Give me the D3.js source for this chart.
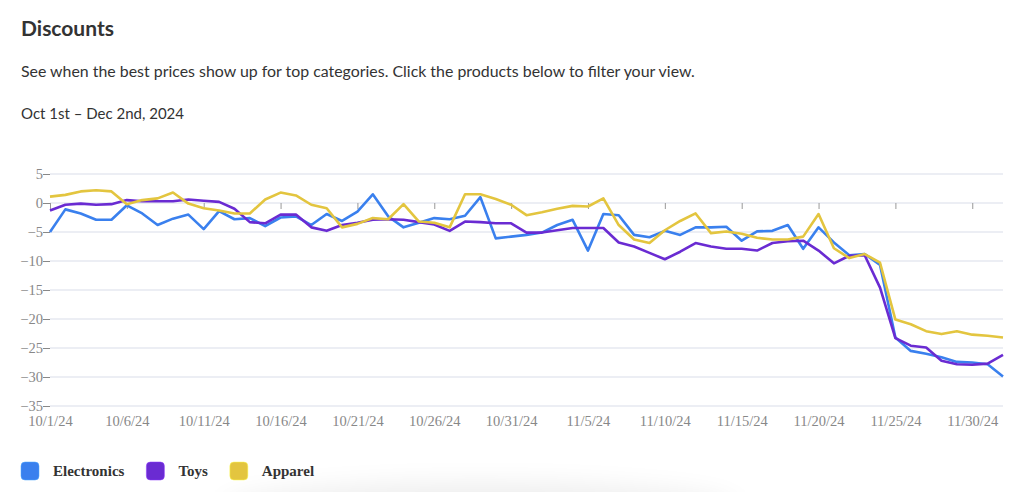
<!DOCTYPE html>
<html>
	<head>
		<title>Discounts</title>
		<style>
			body, html {
				margin: 0;
				padding: 0;
				background: #fff;
			}
		</style>
	</head>
	<body>

		<svg id="svg" width="1024" height="492"></svg>

		<script src="https://d3js.org/d3.v7.min.js"></script>
		<script>
			// Daily discount (%) per category, 10/1/24 through 12/2/24
			const startDate = new Date(2024, 9, 1)
			const endDate = new Date(2024, 11, 2)

			const categories = ['Electronics', 'Toys', 'Apparel']
			const colors = ['#3a80ee', '#6a2bd2', '#e3c53f']

			const electronics = [
				-5.0, -1.1, -1.8, -2.9, -2.9, -0.4, -1.8, -3.8, -2.7, -2.0,
				-4.5, -1.4, -2.8, -2.6, -4.0, -2.5, -2.3, -3.8, -1.9, -3.1,
				-1.5, 1.5, -2.3, -4.2, -3.4, -2.6, -2.8, -2.2, 1.0, -6.1,
				-5.8, -5.5, -5.1, -3.8, -2.9, -8.2, -1.9, -2.1, -5.5, -5.9,
				-4.8, -5.5, -4.2, -4.2, -4.1, -6.5, -4.9, -4.8, -3.8, -7.9,
				-4.2, -6.8, -9.0, -8.8, -10.7, -23.2, -25.5, -26.0, -26.6, -27.4,
				-27.5, -27.8, -29.9
			]
			const toys = [
				-1.3, -0.3, -0.1, -0.3, -0.2, 0.5, 0.3, 0.3, 0.3, 0.6,
				0.4, 0.2, -1.0, -3.3, -3.5, -2.0, -2.0, -4.2, -4.8, -3.8,
				-3.4, -2.9, -2.8, -2.9, -3.3, -3.7, -4.8, -3.2, -3.3, -3.5,
				-3.5, -5.1, -5.1, -4.7, -4.3, -4.3, -4.3, -6.8, -7.5, -8.6,
				-9.7, -8.4, -6.9, -7.5, -7.9, -7.9, -8.2, -6.9, -6.6, -6.5,
				-8.2, -10.4, -9.1, -9.0, -14.6, -23.3, -24.6, -24.9, -27.2, -27.8,
				-27.9, -27.7, -26.2
			]
			const apparel = [
				1.1, 1.4, 2.0, 2.2, 2.0, -0.2, 0.5, 0.8, 1.8, -0.1,
				-0.9, -1.3, -1.8, -1.8, 0.6, 1.8, 1.3, -0.3, -0.9, -4.2,
				-3.6, -2.6, -2.8, -0.2, -3.2, -3.4, -4.2, 1.5, 1.5, 0.7,
				-0.3, -2.1, -1.6, -1.0, -0.5, -0.6, 0.8, -3.8, -6.3, -6.9,
				-4.7, -3.1, -1.8, -5.2, -4.9, -5.3, -6.0, -6.3, -6.3, -5.8,
				-1.9, -7.8, -9.5, -8.8, -10.3, -20.1, -20.9, -22.1, -22.6, -22.1,
				-22.7, -22.9, -23.2
			]

			const yTicks = [5, 0, -5, -10, -15, -20, -25, -30, -35]

			const dates = d3.timeDay.range(startDate, d3.timeDay.offset(endDate, 1))
			const xTicks = dates.filter((d, i) => i % 5 === 0 && d < endDate)

			const series = [electronics, toys, apparel].map((values, i) => ({
				name: categories[i],
				color: colors[i],
				values: values.map((v, j) => ({ date: dates[j], value: v }))
			}))

			const svg = d3.select('#svg')

			// soft page shadow at the bottom
			const defs = svg.append('defs')
			defs.append('filter')
				.attr('id', 'blur')
				.attr('x', '-50%').attr('y', '-50%')
				.attr('width', '200%').attr('height', '200%')
				.append('feGaussianBlur')
				.attr('stdDeviation', 14)
			svg.append('ellipse')
				.attr('cx', 480)
				.attr('cy', 510)
				.attr('rx', 260)
				.attr('ry', 26)
				.attr('fill', '#000')
				.attr('opacity', 0.07)
				.attr('filter', 'url(#blur)')

			// Header texts
			const sans = 'Lato, "Open Sans", sans-serif'
			svg.append('text')
				.attr('x', 21)
				.attr('y', 36)
				.attr('font-family', sans)
				.attr('font-size', 21)
				.attr('font-weight', 700)
				.attr('fill', '#333')
				.text('Discounts')

			svg.append('text')
				.attr('x', 21)
				.attr('y', 77)
				.attr('font-family', sans)
				.attr('font-size', 15.9)
				.attr('fill', '#333')
				.text('See when the best prices show up for top categories. Click the products below to filter your view.')

			svg.append('text')
				.attr('x', 21)
				.attr('y', 119)
				.attr('font-family', sans)
				.attr('font-size', 15)
				.attr('fill', '#333')
				.text('Oct 1st – Dec 2nd, 2024')

			// Scales
			const x = d3.scaleTime()
				.domain([startDate, endDate])
				.range([50, 1003])

			const y = d3.scaleLinear()
				.domain([-35, 5])
				.range([406, 174])

			// Grid lines
			svg.append('g')
				.selectAll('line')
				.data(yTicks)
				.enter()
				.append('line')
				.attr('x1', 50)
				.attr('x2', 1003)
				.attr('y1', d => y(d))
				.attr('y2', d => y(d))
				.attr('stroke', '#e6e8f1')
				.attr('stroke-width', 1.5)

			const serif = '"Liberation Serif", "Times New Roman", serif'

			// Y axis
			const yAxis = svg.append('g')
				.attr('transform', 'translate(50, 0)')
				.call(d3.axisLeft(y).tickValues(yTicks).tickSize(7).tickPadding(0))
			yAxis.select('.domain').remove()
			yAxis.selectAll('line').attr('stroke', '#888')
			yAxis.selectAll('text')
				.attr('font-family', serif)
				.attr('font-size', 14.5)
				.attr('fill', '#888')

			// X axis ticks on the zero line
			const xZero = svg.append('g')
				.attr('transform', `translate(0, ${y(0)})`)
				.call(d3.axisBottom(x).tickValues(xTicks).tickSize(6).tickFormat(''))
			xZero.select('.domain').remove()
			xZero.selectAll('line').attr('stroke', '#999')

			// X axis labels at the bottom
			const xAxis = svg.append('g')
				.attr('transform', 'translate(0, 416)')
				.call(d3.axisBottom(x).tickValues(xTicks).tickSize(0).tickPadding(0)
					.tickFormat(d3.timeFormat('%-m/%-d/%y')))
			xAxis.select('.domain').remove()
			xAxis.selectAll('text')
				.attr('font-family', serif)
				.attr('font-size', 14.5)
				.attr('fill', '#888')

			// Lines
			const line = d3.line()
				.x(d => x(d.date))
				.y(d => y(d.value))

			svg.append('g')
				.selectAll('path')
				.data(series)
				.enter()
				.append('path')
				.attr('d', d => line(d.values))
				.attr('fill', 'none')
				.attr('stroke', d => d.color)
				.attr('stroke-width', 2.6)
				.attr('stroke-linejoin', 'round')

			// Legend
			const legend = svg.append('g')
			let lx = 21
			series.forEach(s => {
				legend.append('rect')
					.attr('x', lx)
					.attr('y', 462)
					.attr('width', 18)
					.attr('height', 18)
					.attr('rx', 4)
					.attr('fill', s.color)
					.attr('stroke', d3.color(s.color).brighter(0.8))
					.attr('stroke-opacity', 0.5)
				const t = legend.append('text')
					.attr('x', lx + 32)
					.attr('y', 476)
					.attr('font-family', serif)
					.attr('font-size', 15)
					.attr('font-weight', 700)
					.attr('fill', '#333')
					.text(s.name)
				lx += 32 + t.node().getComputedTextLength() + 22
			})
		</script>
	</body>
</html>
